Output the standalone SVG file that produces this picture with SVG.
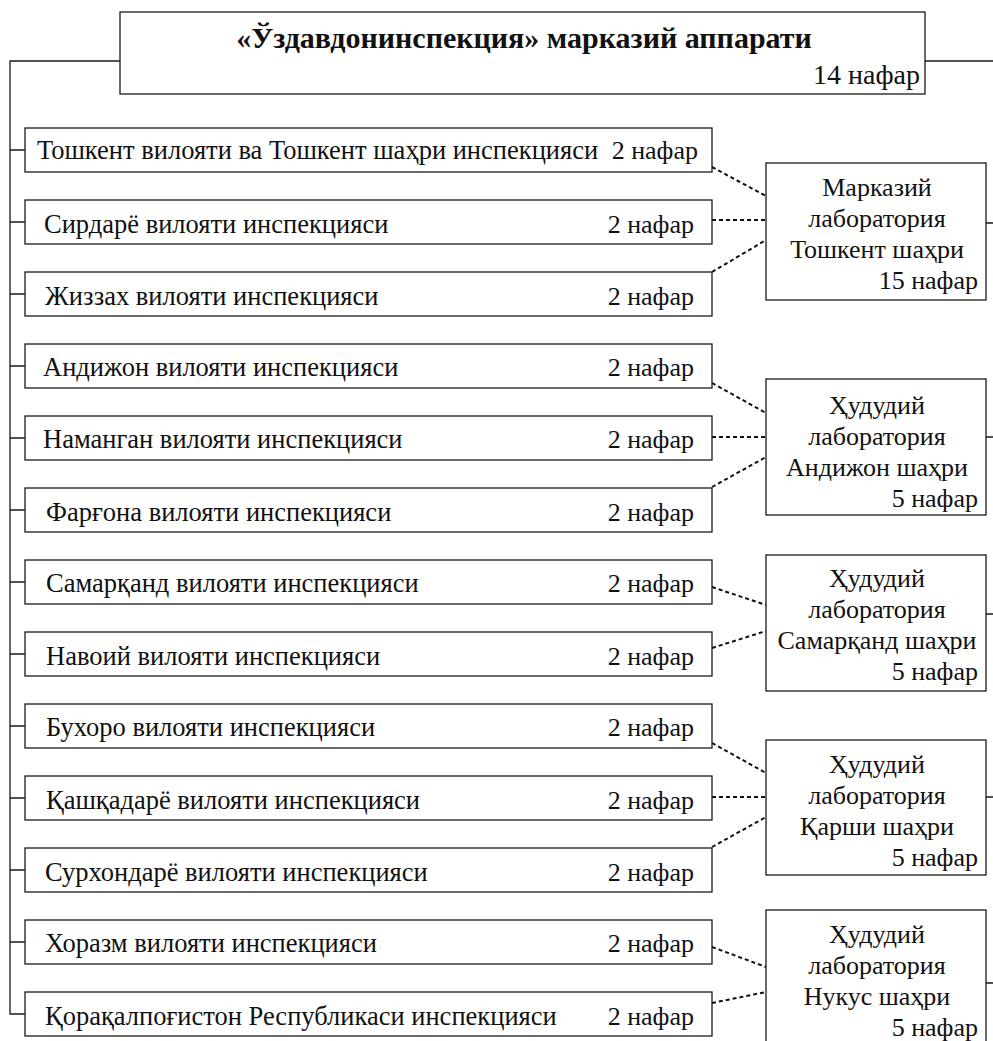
<svg xmlns="http://www.w3.org/2000/svg" width="993" height="1041" viewBox="0 0 993 1041">
<style>
.box{fill:#fff;stroke:#1a1a1a;stroke-width:1.3}
.ln{fill:none;stroke:#1a1a1a;stroke-width:1.3}
.dash{fill:none;stroke:#111;stroke-width:2;stroke-dasharray:4,3}
text{font-family:"Liberation Serif","Times New Roman",serif;fill:#111}
.t{font-size:26.5px}
.r{font-size:26px;text-anchor:end}
.lab{font-size:26px;text-anchor:middle}
.labn{font-size:26px;text-anchor:end}
.title{font-size:30px;font-weight:bold;text-anchor:middle}
.hn{font-size:28px;text-anchor:end}
</style>
<g id="connectors">
<path class="ln" d="M120 61 H10 V1014 H25"/>
<path class="ln" d="M925 61 H993"/>
<path class="ln" d="M10 150 H25 M10 222 H25 M10 294 H25 M10 366 H25 M10 438 H25 M10 510 H25 M10 582 H25 M10 654 H25 M10 726 H25 M10 798 H25 M10 870 H25 M10 942 H25"/>
<path class="ln" d="M986 223 H993 M986 437 H993 M986 614 H993 M986 797 H993 M986 983 H993"/>
<path class="dash" d="M712 167 L766 196 M712 220 L766 220 M712 272 L766 240"/>
<path class="dash" d="M712 383 L766 413 M712 437 L766 437 M712 487 L766 457"/>
<path class="dash" d="M712 587 L766 605 M712 648 L766 631"/>
<path class="dash" d="M712 743 L766 773 M712 797 L766 797 M712 847 L766 817"/>
<path class="dash" d="M712 947 L766 967 M712 1003 L766 992"/>
</g>
<g id="head">
<rect class="box" x="120" y="12" width="805" height="82"/>
<text class="title" x="524" y="48">«Ўздавдонинспекция» марказий аппарати</text>
<text class="hn" x="920" y="84">14 нафар</text>
</g>
<g id="r1"><rect class="box" x="25" y="128" width="687" height="44"/><text class="t" x="37" y="159">Тошкент вилояти ва Тошкент шаҳри инспекцияси</text><text class="r" x="698" y="159">2 нафар</text></g>
<g id="r2"><rect class="box" x="25" y="200" width="687" height="44"/><text class="t" x="44" y="233">Сирдарё вилояти инспекцияси</text><text class="r" x="694" y="233">2 нафар</text></g>
<g id="r3"><rect class="box" x="25" y="272" width="687" height="44"/><text class="t" x="45" y="305">Жиззах вилояти инспекцияси</text><text class="r" x="694" y="305">2 нафар</text></g>
<g id="r4"><rect class="box" x="25" y="344" width="687" height="44"/><text class="t" x="43" y="376">Андижон вилояти инспекцияси</text><text class="r" x="694" y="376">2 нафар</text></g>
<g id="r5"><rect class="box" x="25" y="416" width="687" height="44"/><text class="t" x="43" y="448">Наманган вилояти инспекцияси</text><text class="r" x="694" y="448">2 нафар</text></g>
<g id="r6"><rect class="box" x="25" y="488" width="687" height="44"/><text class="t" x="46" y="521">Фарғона вилояти инспекцияси</text><text class="r" x="694" y="521">2 нафар</text></g>
<g id="r7"><rect class="box" x="25" y="560" width="687" height="44"/><text class="t" x="46" y="592">Самарқанд вилояти инспекцияси</text><text class="r" x="694" y="592">2 нафар</text></g>
<g id="r8"><rect class="box" x="25" y="632" width="687" height="44"/><text class="t" x="46" y="665">Навоий вилояти инспекцияси</text><text class="r" x="694" y="665">2 нафар</text></g>
<g id="r9"><rect class="box" x="25" y="704" width="687" height="44"/><text class="t" x="46" y="736">Бухоро вилояти инспекцияси</text><text class="r" x="694" y="736">2 нафар</text></g>
<g id="r10"><rect class="box" x="25" y="776" width="687" height="44"/><text class="t" x="46" y="809">Қашқадарё вилояти инспекцияси</text><text class="r" x="694" y="809">2 нафар</text></g>
<g id="r11"><rect class="box" x="25" y="848" width="687" height="44"/><text class="t" x="45" y="881">Сурхондарё вилояти инспекцияси</text><text class="r" x="694" y="881">2 нафар</text></g>
<g id="r12"><rect class="box" x="25" y="920" width="687" height="44"/><text class="t" x="45" y="952">Хоразм вилояти инспекцияси</text><text class="r" x="694" y="952">2 нафар</text></g>
<g id="r13"><rect class="box" x="25" y="992" width="687" height="44"/><text class="t" x="45" y="1025">Қорақалпоғистон Республикаси инспекцияси</text><text class="r" x="694" y="1025">2 нафар</text></g>
<g id="lab1"><rect class="box" x="766" y="163" width="220" height="137"/><text class="lab" x="877" y="196">Марказий</text><text class="lab" x="877" y="227">лаборатория</text><text class="lab" x="877" y="258">Тошкент шаҳри</text><text class="labn" x="978" y="289">15 нафар</text></g>
<g id="lab2"><rect class="box" x="766" y="379" width="220" height="136"/><text class="lab" x="877" y="414">Ҳудудий</text><text class="lab" x="877" y="445">лаборатория</text><text class="lab" x="877" y="476">Андижон шаҳри</text><text class="labn" x="978" y="507">5 нафар</text></g>
<g id="lab3"><rect class="box" x="766" y="555" width="220" height="136"/><text class="lab" x="877" y="587">Ҳудудий</text><text class="lab" x="877" y="618">лаборатория</text><text class="lab" x="877" y="649">Самарқанд шаҳри</text><text class="labn" x="978" y="680">5 нафар</text></g>
<g id="lab4"><rect class="box" x="766" y="740" width="220" height="135"/><text class="lab" x="877" y="773">Ҳудудий</text><text class="lab" x="877" y="804">лаборатория</text><text class="lab" x="877" y="835">Қарши шаҳри</text><text class="labn" x="978" y="866">5 нафар</text></g>
<g id="lab5"><rect class="box" x="766" y="910" width="220" height="140"/><text class="lab" x="877" y="943">Ҳудудий</text><text class="lab" x="877" y="974">лаборатория</text><text class="lab" x="877" y="1005">Нукус шаҳри</text><text class="labn" x="978" y="1036">5 нафар</text></g>
</svg>
